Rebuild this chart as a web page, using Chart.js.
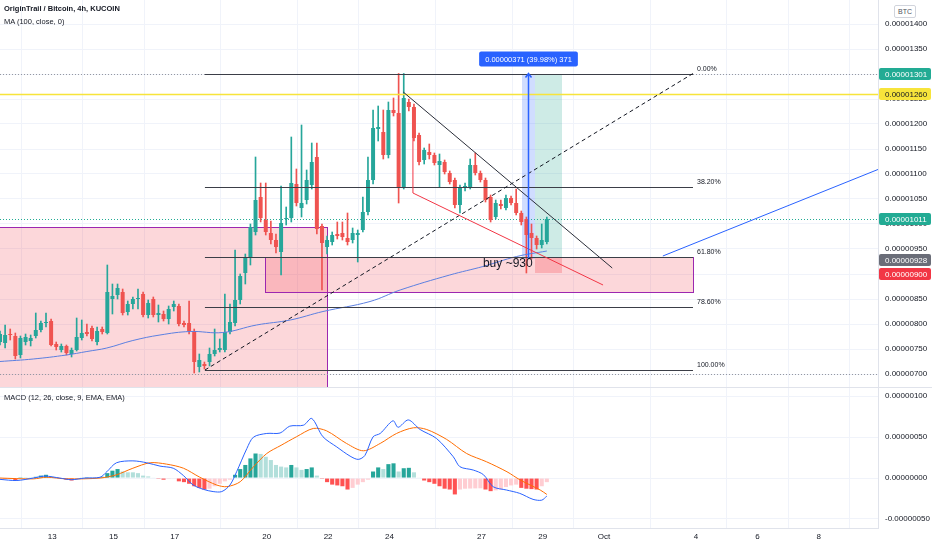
<!DOCTYPE html>
<html><head><meta charset="utf-8">
<script src="https://cdn.jsdelivr.net/npm/chart.js@4.4.1/dist/chart.umd.min.js"></script>
<style>
html,body{margin:0;padding:0;background:#fff;width:932px;height:550px;overflow:hidden;font-family:'Liberation Sans',Arial,sans-serif;}
canvas{position:absolute;left:0;}
#main{top:0;}
#macd{top:388px;}
.t{position:absolute;white-space:nowrap;color:#131722;z-index:5;}
#sep{position:absolute;left:0;top:387px;width:932px;height:1px;background:#e0e3eb;z-index:4;}
#btc{position:absolute;left:894px;top:5px;width:20px;height:11px;border:1px solid #d1d4dc;border-radius:2px;font-size:7px;color:#50535e;text-align:center;line-height:11px;background:#fff;z-index:6;}
</style></head>
<body>
<canvas id="main" width="932" height="388"></canvas>
<canvas id="macd" width="932" height="162"></canvas>
<div id="sep"></div>
<div class="t" style="left:4px;top:4px;font-size:7.5px;font-weight:bold;">OriginTrail / Bitcoin, 4h, KUCOIN</div>
<div class="t" style="left:4px;top:17px;font-size:7.5px;">MA (100, close, 0)</div>
<div class="t" style="left:4px;top:393px;font-size:7.5px;">MACD (12, 26, close, 9, EMA, EMA)</div>
<div id="btc">BTC</div>
<script>
// ---------- data (prices in units of 0.00000001 BTC) ----------
const candleOpen  = [764,762,780,776,738,764,766,776,788,802, 806,760,748,756,740,748,772,784,792,764, 790,782,850,858,864,824,840,850,860,818, 850,818,820,810,834,836,802,802,786,714, 720,724,740,748,748,784,802,848,902,934, 984,1054,1008,982,968,944,1010,1012,1080,1032, 1048,1078,1134,996,954,964,980,982,972,968, 978,988,1024,1088,1190,1184,1138,1228,1222,1074, 1244,1234,1178,1128,1144,1138,1118,1124,1102,1088, 1038,1072,1074,1118,1102,1088,1054,1014,1040,1032, 1052,1042,1022,1010,982,972,958,964];
const candleHigh  = [786,798,790,782,776,780,778,822,806,822, 810,764,760,758,752,812,808,800,796,794, 794,918,880,880,870,846,854,870,864,848, 854,838,826,836,846,840,806,846,790,740, 724,752,790,770,860,840,948,900,940,1000, 1134,1082,1082,1006,980,1076,1034,1174,1110,1198, 1108,1162,1162,1000,976,984,1004,1004,1022,992, 988,1054,1134,1228,1236,1228,1244,1252,1301,1301, 1250,1240,1182,1152,1160,1142,1140,1128,1106,1092, 1078,1082,1130,1142,1106,1092,1058,1048,1048,1058, 1056,1070,1026,1014,1000,976,1000,1014];
const candleLow   = [758,752,768,730,732,758,756,772,784,794, 756,748,744,738,734,746,768,776,766,758, 780,780,820,850,818,818,830,830,814,812, 814,804,806,800,826,796,794,780,702,704, 710,716,736,744,744,780,796,840,880,918, 978,1004,978,960,942,898,998,1004,1036,1014, 1040,1070,980,868,940,958,970,968,958,962, 924,984,1018,1080,1166,1130,1132,1216,1042,1070, 1226,1166,1118,1120,1130,1118,1074,1100,1080,1032, 1022,1066,1070,1098,1084,1044,1004,1010,1030,1028, 1038,1018,998,902,930,950,952,960];
const candleClose = [780,778,778,736,772,774,772,788,802,804, 758,754,756,742,748,774,782,780,770,786, 784,864,856,872,822,840,850,852,818,842, 818,822,810,830,840,800,798,786,724,728, 716,740,748,752,784,804,848,896,934,994, 1048,1012,984,968,954,1002,1012,1082,1042,1042, 1088,1124,990,962,968,978,976,974,964,982, 982,1024,1088,1192,1194,1138,1228,1222,1074,1252, 1234,1172,1124,1148,1138,1122,1126,1104,1084,1038, 1074,1076,1118,1102,1088,1048,1008,1042,1036,1052, 1042,1022,1004,978,972,958,968,1010];

// MA(100) read at [candle index, value]
const maPoints = [[0,725],[6.5,730],[13,738],[17,745],[20.9,752],[26,767],[31.3,778],[37.2,785],[43.6,783],[50.2,798],[56.8,808],[63.2,825],[72.4,845],[78.3,868],[88,898],[94.5,915],[101.1,935],[107,946]];

// MACD pane (units of 0.00000001)
const macdLine = [[0,-1.6],[3.3,-3],[6.5,0],[8.8,2.4],[11.7,0],[14,-2],[16.6,0],[19.6,1],[20.9,7.7],[22.8,18.7],[26,21],[28.7,18.7],[31.3,14.6],[33.9,12],[35.9,3],[37.8,-8.5],[39.8,-13.8],[41.7,-16.5],[43.4,-16.5],[45,-8.5],[46.3,7.7],[48.3,36],[49.6,50],[52.2,54.5],[54.8,55],[56.7,63.4],[59.4,64.6],[61,72.8],[63.2,50.4],[65.9,38],[68.5,26.8],[70.1,22.8],[71.4,27.6],[73,50.4],[74.4,54.5],[76.9,70],[77.9,62],[79.9,71],[82.2,59.3],[85.4,48.4],[88.7,26],[90,13.8],[92.6,9.8],[94.6,4.1],[96.5,-10.6],[99.1,-14.6],[101.7,-18.7],[104.3,-26],[106,-27],[107,-22]];
const signalLine = [[0,0],[6.5,-1],[9.1,1],[13,-1],[19.6,0],[22.8,4],[26,12],[29.4,18.7],[32.6,17],[35.9,12],[39.1,1],[42.4,-8.5],[44.4,-10.5],[47,-4.5],[49.6,13.8],[52.2,30],[55,40],[58,50.4],[61.3,60.6],[63.9,57.7],[67.8,42.3],[71.1,33.3],[74.4,42.3],[77.6,54.5],[80.9,61.4],[83.5,59.3],[87.4,47.2],[91.3,30],[95.2,19.9],[99.2,7.7],[101.8,-2.4],[105.7,-14.6],[107,-20]];
const macdHist = [0.5,-1,-1,-3,1,1,1,1.5,3,4, 2,0.5,0,-2,-3,-1,0.5,1,1,1, 1.5,6,9,11,8,7,7,6,3,2, 0.5,-1,-2,-1,-0.5,-4,-5,-7,-10,-12, -14,-13,-10,-7,-4,-2,4,11,16,24, 30,29.5,26,22,16,14,13,16,13,10, 11,13,3,-1,-5,-8,-9,-10,-14,-12, -8,-5,-2,8,13,11,17,18,8,12, 12.5,7,0.5,-3,-5,-7,-10,-13,-14,-20, -14,-13,-12.8,-12.6,-12.5,-14,-16,-15,-14,-11, -9,-8,-12,-13,-13.5,-14,-10,-5];

// axes
const priceTicks = [700,750,800,850,900,950,1000,1050,1100,1150,1200,1250,1300,1350,1400];
const macdTicks = [100,50,0,-50];
const tickDays = [13,15,17,20,22,24,27,29,31,34,36,38];
const tickLabels = ['13','15','17','20','22','24','27','29','Oct','4','6','8'];
const day13Index = 10.2, candlesPerDay = 6;

// right-axis price tags
const tagValues = [1301,1260,1011,928,900];
const tagBg = ['#22ab94','#f7e43b','#22ab94','#6a6d78','#f23645'];
const tagFg = ['#ffffff','#131722','#ffffff','#ffffff','#ffffff'];

// drawings (candle index / price)
const fibStart = 40.1, fibEnd = 135.6, fibLow = 708, fibHigh = 1301;
const fibLevels = [0,0.382,0.618,0.786,1];
const fibLabels = ['0.00%','38.20%','61.80%','78.60%','100.00%'];
const zones = [
  {i0:-2, i1:64, p0:994, p1:600, fill:'rgba(242,54,69,0.2)', border:'#9c27b0'},
  {i0:51.9, i1:135.6, p0:934, p1:864, fill:'rgba(242,54,69,0.2)', border:'#9c27b0'},
  {i0:102.1, i1:104.7, p0:1301, p1:930, fill:'rgba(41,98,255,0.22)'},
  {i0:104.7, i1:110.0, p0:1301, p1:934, fill:'rgba(8,153,129,0.2)'},
  {i0:104.7, i1:110.0, p0:932, p1:902, fill:'rgba(242,54,69,0.25)'}
];
const dottedLevels = [1301,1011,701];
const dottedColors = ['#9598a1','#22ab94','#9598a1'];
const yellowLevel = 1260;
const trendBlack = [[78.9,1264],[119.8,912]];
const trendRed = [[80.8,1172],[80.8,1062],[118,878]];
const trendBlue = [[129.7,936],[173,1114]];
const measureArrow = {i:103.3, p0:930, p1:1301};
const measureText = '0.00000371 (39.98%) 371';
const buyNote = {i:94.5, p:921, text:'buy ~930'};

// ---------- rendering ----------
const FONT = "'Liberation Sans', Arial, sans-serif";
Chart.defaults.font.family = FONT;
Chart.defaults.color = '#131722';
const UP = '#26a69a', DOWN = '#ef5350';
const candleColors = candleOpen.map((o,i)=> candleClose[i] >= o ? UP : DOWN);
const histColors = macdHist.map((v,i)=>{
  const prev = i>0 ? macdHist[i-1] : v;
  if (v >= 0) return prev < v ? '#26a69a' : '#b2dfdb';
  return prev < v ? '#ffcdd2' : '#ff5252';
});
const dayIndex = d => day13Index + (d-13)*candlesPerDay;
const X_MAX = 171.8;
const fmt = v => (v/1e8).toFixed(8);
const noPad = s => { s.paddingTop = 0; s.paddingBottom = 0; s.paddingLeft = 0; s.paddingRight = 0; };

const xCommon = {
  type:'linear', min:0, max:X_MAX, offset:false,
  grid:{color:'#f0f3fa', drawTicks:false},
  afterBuildTicks: s => { s.ticks = tickDays.map(d=>({value:dayIndex(d)})); }
};

function seg(ctx, x, y, pts) {
  ctx.beginPath();
  pts.forEach((p,k)=>{ const px=x.getPixelForValue(p[0]), py=y.getPixelForValue(p[1]); k?ctx.lineTo(px,py):ctx.moveTo(px,py); });
  ctx.stroke();
}

const drawings = {
  id:'drawings',
  beforeDatasetsDraw(chart){
    const {ctx, chartArea:a, scales:{x,y}} = chart;
    ctx.save(); ctx.beginPath(); ctx.rect(a.left,a.top,a.width,a.height); ctx.clip();
    zones.forEach(z=>{
      const x0=Math.round(x.getPixelForValue(z.i0)), x1=Math.round(x.getPixelForValue(z.i1));
      const y0=Math.round(y.getPixelForValue(z.p0)), y1=Math.round(y.getPixelForValue(z.p1));
      ctx.fillStyle=z.fill; ctx.fillRect(x0,y0,x1-x0,y1-y0);
      if (z.border){ ctx.strokeStyle=z.border; ctx.lineWidth=1; ctx.strokeRect(x0+0.5,y0+0.5,x1-x0,y1-y0); }
    });
    ctx.setLineDash([1,2]); ctx.lineWidth=1;
    dottedLevels.forEach((v,k)=>{ const py=Math.round(y.getPixelForValue(v))+0.5; ctx.strokeStyle=dottedColors[k]; ctx.beginPath(); ctx.moveTo(a.left,py); ctx.lineTo(a.right,py); ctx.stroke(); });
    ctx.setLineDash([]);
    ctx.restore();
  },
  afterDatasetsDraw(chart){
    const {ctx, chartArea:a, scales:{x,y}} = chart;
    ctx.save(); ctx.beginPath(); ctx.rect(a.left,a.top,a.width,a.height); ctx.clip();
    let py = Math.round(y.getPixelForValue(yellowLevel))+0.5;
    ctx.strokeStyle='#f7e43b'; ctx.lineWidth=1.5; ctx.beginPath(); ctx.moveTo(a.left,py); ctx.lineTo(a.right,py); ctx.stroke();
    const fx0=x.getPixelForValue(fibStart), fx1=x.getPixelForValue(fibEnd);
    ctx.lineWidth=1; ctx.strokeStyle='#3b3e47';
    ctx.font='7px '+FONT; ctx.fillStyle='#131722'; ctx.textAlign='left'; ctx.textBaseline='bottom';
    fibLevels.forEach((f,k)=>{
      const v=fibHigh-(fibHigh-fibLow)*f; const yy=Math.round(y.getPixelForValue(v))+0.5;
      ctx.beginPath(); ctx.moveTo(fx0,yy); ctx.lineTo(fx1,yy); ctx.stroke();
      ctx.fillText(fibLabels[k], fx1+4, yy-2);
    });
    ctx.setLineDash([4,3]); ctx.strokeStyle='#131722';
    seg(ctx,x,y,[[fibStart,fibLow],[fibEnd,fibHigh]]);
    ctx.setLineDash([]);
    ctx.strokeStyle='#2a2e39'; seg(ctx,x,y,trendBlack);
    ctx.strokeStyle='#f23645'; seg(ctx,x,y,trendRed);
    ctx.strokeStyle='#2962ff'; seg(ctx,x,y,trendBlue);
    const ax=Math.round(x.getPixelForValue(measureArrow.i))+0.5, ay0=y.getPixelForValue(measureArrow.p0), ay1=y.getPixelForValue(measureArrow.p1);
    ctx.strokeStyle='#2962ff'; ctx.lineWidth=1.5;
    ctx.beginPath(); ctx.moveTo(ax,ay0); ctx.lineTo(ax,ay1); ctx.moveTo(ax-3,ay1+4); ctx.lineTo(ax,ay1); ctx.lineTo(ax+3,ay1+4); ctx.stroke();
    ctx.restore();
    ctx.save();
    ctx.font='7.5px '+FONT; const tw=ctx.measureText(measureText).width;
    const bw=tw+12, bh=15, bx=ax-bw/2, by=ay1-22;
    ctx.fillStyle='#2962ff'; ctx.beginPath(); ctx.roundRect(bx,by,bw,bh,2); ctx.fill();
    ctx.fillStyle='#fff'; ctx.textAlign='center'; ctx.textBaseline='middle'; ctx.fillText(measureText, ax, by+bh/2+0.5);
    ctx.font='12px '+FONT; ctx.fillStyle='#131722'; ctx.textAlign='left'; ctx.textBaseline='middle';
    ctx.fillText(buyNote.text, x.getPixelForValue(buyNote.i), y.getPixelForValue(buyNote.p));
    ctx.restore();
  },
  afterDraw(chart){
    const {ctx, chartArea:a, scales:{y}} = chart;
    ctx.save();
    ctx.font='8px '+FONT; ctx.textAlign='left'; ctx.textBaseline='middle';
    tagValues.forEach((v,k)=>{
      const py=Math.round(y.getPixelForValue(v));
      ctx.fillStyle=tagBg[k]; ctx.beginPath(); ctx.roundRect(a.right+1,py-6,52,12,2); ctx.fill();
      ctx.fillStyle=tagFg[k]; ctx.fillText(fmt(v), a.right+7, py+0.5);
    });
    ctx.restore();
  }
};

new Chart(document.getElementById('main'), {
  type:'bar',
  data:{datasets:[
    {type:'line', data:maPoints.map(p=>({x:p[0],y:p[1]})), borderColor:'#5b7fe0', borderWidth:1, pointRadius:0, tension:0.4},
    {type:'bar', data:candleOpen.map((o,i)=>({x:i,y:[o,candleClose[i]]})), backgroundColor:candleColors, barPercentage:0.78, categoryPercentage:1, grouped:false, minBarLength:1},
    {type:'bar', data:candleLow.map((l,i)=>({x:i,y:[l,candleHigh[i]]})), backgroundColor:candleColors, barThickness:1, grouped:false}
  ]},
  options:{
    responsive:false, animation:false, events:[],
    layout:{padding:0},
    plugins:{legend:{display:false}, tooltip:{enabled:false}},
    scales:{
      x:Object.assign({}, xCommon, {border:{display:false}, ticks:{display:false}, afterFit:s=>{s.height=0; noPad(s);}}),
      y:{position:'right', min:672, max:1448,
         grid:{color:'#f0f3fa', drawTicks:false}, border:{color:'#e0e3eb'},
         ticks:{padding:7, font:{size:8}, color:'#131722', callback:v=>fmt(v)},
         afterBuildTicks:s=>{ s.ticks=priceTicks.map(v=>({value:v})); },
         afterFit:s=>{ s.width=54; noPad(s); }}
    }
  },
  plugins:[drawings]
});

new Chart(document.getElementById('macd'), {
  type:'bar',
  data:{datasets:[
    {type:'line', data:macdLine.map(p=>({x:p[0],y:p[1]})), borderColor:'#2962ff', borderWidth:1, pointRadius:0, tension:0.3},
    {type:'line', data:signalLine.map(p=>({x:p[0],y:p[1]})), borderColor:'#ff6d00', borderWidth:1, pointRadius:0, tension:0.3},
    {type:'bar', data:macdHist.map((v,i)=>({x:i,y:v})), backgroundColor:histColors, barPercentage:0.8, categoryPercentage:1}
  ]},
  options:{
    responsive:false, animation:false, events:[],
    layout:{padding:0},
    plugins:{legend:{display:false}, tooltip:{enabled:false}},
    scales:{
      x:Object.assign({}, xCommon, {border:{display:true,color:'#e0e3eb'},
         ticks:{font:{size:8}, padding:4, maxRotation:0, autoSkip:false, color:'#131722', callback:(v,idx)=>tickLabels[idx]},
         afterFit:s=>{s.height=22; noPad(s);}}),
      y:{position:'right', min:-61, max:110,
         grid:{color:'#f0f3fa', drawTicks:false}, border:{color:'#e0e3eb'},
         ticks:{padding:7, font:{size:8}, color:'#131722', callback:v=>fmt(v)},
         afterBuildTicks:s=>{ s.ticks=macdTicks.map(v=>({value:v})); },
         afterFit:s=>{ s.width=54; noPad(s); }}
    }
  }
});
</script>
</body></html>
